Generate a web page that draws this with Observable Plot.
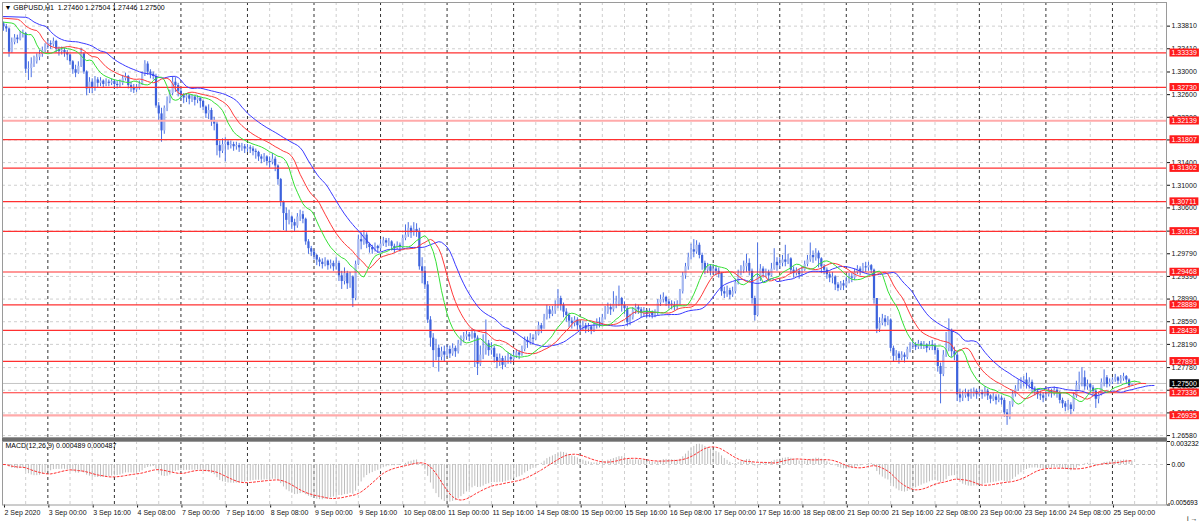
<!DOCTYPE html>
<html>
<head>
<meta charset="utf-8">
<script src="https://cdn.jsdelivr.net/npm/d3@7"></script>
<script src="https://cdn.jsdelivr.net/npm/@observablehq/plot@0.6"></script>
<style>
  html,body{margin:0;padding:0;background:#fff;}
  #chart{position:relative;width:1200px;height:523px;overflow:hidden;background:#fff;}
  #chart svg{display:block;}
  #sep{height:3px;background:#6e6e6e;margin-left:2px;width:1165px;}
</style>
</head>
<body>
<div id="chart"><div id="main"></div><div id="sep"></div><div id="macd"></div></div>
<script>
// ---------------- data ----------------
const symbolName = "GBPUSD,H1";
const lastBarOHLC = [1.27460, 1.27504, 1.27446, 1.27500];
const tradingDays = ["2 Sep","3 Sep","4 Sep","7 Sep","8 Sep","9 Sep","10 Sep","11 Sep","14 Sep","15 Sep","16 Sep","17 Sep","18 Sep","21 Sep","22 Sep","23 Sep","24 Sep","25 Sep"];
const firstBarHour = 8;          // first visible H1 bar: 2 Sep 08:00
const priceUnit = 1e4;           // OHLC arrays below are price x 10000
const firstOpen = 13385;
const closeX = [
13380,13376,13335,13352,13360,13357,13366,13368, 13305,13306,13314,13318,13326,13331,13338,13346,
13350,13348,13354,13340,13336,13338,13334,13330, 13318,13304,13298,13310,13332,13300,13270,13282,
13272,13286,13280,13284,13278,13282,13280,13283, 13278,13276,13280,13288,13292,13276,13272,13268,
13272,13278,13296,13314,13300,13296,13292,13240, 13226,13196,13236,13248,13262,13282,13276,13266,
13258,13254,13258,13252,13256,13250,13254,13248, 13238,13226,13232,13214,13208,13170,13160,13172,
13176,13170,13172,13168,13170,13166,13168,13164, 13166,13164,13160,13158,13150,13146,13150,13142,
13140,13146,13134,13110,13070,13050,13038,13044, 13034,13028,13044,13048,13040,13000,12988,12982,
12976,12968,12964,12960,12966,12958,12962,12956, 12962,12940,12930,12944,12926,12938,12900,12960,
13004,13000,13012,12996,12990,12986,12992,12988, 12996,13002,12998,13000,12992,12988,12994,12990,
13006,13012,13024,13016,13022,13018,12956,12948, 12924,12862,12830,12808,12812,12796,12806,12800,
12810,12802,12812,12806,12820,12828,12832,12836, 12832,12838,12830,12784,12800,12812,12820,12808,
12812,12796,12788,12794,12782,12790,12796,12792, 12798,12804,12800,12810,12826,12822,12830,12828,
12836,12852,12846,12866,12880,12872,12878,12886, 12900,12888,12876,12870,12860,12856,12862,12852,
12848,12852,12846,12850,12844,12852,12858,12856, 12866,12876,12884,12880,12890,12894,12900,12888,
12882,12858,12866,12878,12884,12880,12874,12878, 12872,12876,12870,12874,12892,12898,12902,12894,
12890,12888,12886,12890,12912,12940,12956,12972, 12986,12982,12994,12976,12962,12950,12956,12948,
12952,12948,12944,12912,12908,12914,12906,12912, 12928,12944,12950,12956,12962,12948,12900,12870,
12938,12952,12944,12946,12940,12952,12964,12958, 12962,12968,12964,12970,12950,12944,12948,12942,
12950,12960,12968,12976,12972,12980,12970,12956, 12950,12942,12936,12938,12924,12918,12926,12922,
12930,12938,12936,12946,12952,12948,12956,12954, 12958,12950,12900,12846,12856,12864,12858,12862,
12812,12798,12802,12794,12800,12796,12810,12816, 12818,12814,12820,12816,12818,12812,12818,12816,
12808,12780,12766,12800,12812,12844,12806,12800, 12730,12724,12728,12734,12726,12732,12736,12730,
12734,12730,12736,12728,12722,12726,12720,12724, 12720,12698,12690,12712,12730,12740,12748,12752,
12756,12748,12752,12740,12736,12730,12728,12724, 12730,12736,12732,12738,12734,12720,12714,12708,
12712,12704,12728,12746,12752,12760,12744,12748, 12742,12736,12722,12730,12752,12760,12748,12752,
12756,12760,12754,12758,12762,12756,12746,12750];
const highX = [
13388,13384,13378,13360,13366,13365,13372,13374, 13370,13318,13325,13328,13332,13338,13344,13350,
13356,13355,13360,13356,13344,13344,13342,13338, 13332,13320,13312,13318,13342,13334,13302,13290,
13288,13292,13290,13290,13286,13288,13286,13288, 13286,13284,13286,13294,13298,13294,13282,13278,
13278,13284,13300,13320,13318,13304,13300,13296, 13246,13236,13240,13256,13268,13292,13290,13280,
13270,13262,13262,13260,13260,13256,13258,13254, 13250,13240,13242,13236,13220,13212,13178,13182,
13184,13180,13178,13176,13176,13174,13174,13172, 13172,13170,13168,13164,13160,13154,13156,13152,
13150,13156,13150,13136,13112,13072,13060,13056, 13046,13040,13050,13056,13054,13042,13004,12992,
12986,12978,12972,12970,12972,12968,12968,12966, 12972,12966,12948,12954,12948,12946,12940,12966,
13012,13016,13020,13016,12998,12994,12998,12994, 13004,13008,13006,13006,13002,12996,13000,12998,
13012,13030,13034,13028,13034,13032,13024,12972, 12956,12930,12868,12838,12828,12818,12814,12816,
12818,12816,12820,12816,12826,12834,12840,12842, 12840,12846,12844,12834,12816,12836,12862,12826,
12822,12816,12802,12802,12798,12798,12804,12802, 12806,12810,12808,12816,12832,12832,12838,12836,
12842,12858,12856,12872,12888,12886,12886,12896, 12916,12904,12892,12882,12874,12866,12868,12866,
12856,12860,12856,12856,12852,12858,12864,12866, 12872,12886,12892,12890,12912,12904,12922,12902,
12894,12886,12872,12884,12890,12888,12884,12884, 12880,12882,12878,12880,12898,12906,12910,12904,
12898,12896,12894,12896,12916,12946,12962,12980, 12996,13004,13002,12998,12980,12966,12962,12960,
12960,12958,12954,12946,12920,12922,12918,12920, 12934,12950,12958,12966,12978,12970,12952,12904,
12998,12960,12956,12952,12950,12962,12988,12972, 12972,12976,12994,12978,12972,12956,12954,12952,
12956,12966,12976,12998,12984,12988,12984,12972, 12960,12954,12946,12946,12940,12928,12930,12932,
12938,12944,12944,12952,12958,12956,12962,12964, 12964,12960,12952,12900,12866,12872,12870,12868,
12864,12816,12808,12806,12806,12804,12814,12822, 12824,12822,12826,12824,12824,12820,12824,12826,
12820,12812,12786,12808,12840,12864,12846,12814, 12806,12740,12736,12740,12738,12740,12742,12740,
12740,12738,12744,12740,12730,12732,12730,12730, 12728,12724,12704,12718,12736,12746,12756,12760,
12762,12768,12760,12756,12744,12740,12736,12734, 12736,12742,12740,12744,12742,12736,12724,12718,
12720,12716,12734,12754,12770,12778,12772,12756, 12750,12746,12740,12734,12758,12774,12764,12758,
12760,12766,12762,12764,12768,12764,12758,12750];
const lowX = [
13372,13370,13326,13333,13348,13350,13355,13360, 13297,13285,13290,13308,13314,13320,13326,13334,
13340,13340,13344,13334,13328,13330,13326,13320, 13312,13296,13290,13296,13308,13296,13258,13262,
13262,13266,13272,13274,13272,13274,13274,13276, 13270,13270,13272,13276,13284,13270,13264,13262,
13264,13268,13276,13292,13294,13288,13286,13236, 13214,13176,13190,13230,13244,13258,13264,13256,
13250,13244,13246,13242,13246,13240,13244,13236, 13232,13218,13216,13204,13196,13152,13148,13156,
13141,13162,13164,13160,13162,13158,13160,13156, 13158,13156,13152,13146,13142,13138,13140,13134,
13130,13136,13124,13100,13062,13020,13018,13030, 13022,13018,13024,13036,13032,12994,12978,12974,
12968,12958,12956,12952,12956,12950,12952,12948, 12950,12930,12916,12924,12916,12918,12884,12896,
12958,12986,12994,12988,12980,12978,12982,12980, 12984,12992,12990,12992,12984,12980,12986,12982,
12988,13002,13008,13006,13010,13008,12950,12926, 12916,12856,12814,12778,12790,12770,12790,12788,
12796,12794,12798,12796,12802,12816,12822,12826, 12824,12828,12778,12764,12780,12792,12800,12798,
12800,12786,12776,12780,12774,12778,12784,12784, 12788,12794,12792,12798,12806,12812,12818,12818,
12826,12834,12838,12846,12862,12864,12868,12872, 12882,12878,12866,12858,12848,12846,12850,12844,
12840,12842,12838,12840,12836,12840,12846,12848, 12852,12862,12872,12870,12876,12882,12886,12876,
12872,12850,12852,12862,12872,12872,12866,12868, 12864,12866,12864,12866,12870,12886,12892,12886,
12882,12880,12878,12880,12888,12908,12934,12950, 12968,12972,12978,12970,12950,12942,12944,12940,
12942,12940,12936,12904,12900,12902,12898,12902, 12908,12924,12940,12944,12946,12940,12890,12860,
12868,12930,12936,12938,12932,12938,12950,12948, 12952,12956,12956,12960,12944,12936,12940,12934,
12938,12948,12956,12964,12962,12966,12954,12944, 12942,12934,12928,12926,12914,12912,12914,12914,
12918,12926,12928,12932,12942,12940,12944,12946, 12948,12944,12890,12838,12840,12852,12850,12852,
12806,12788,12790,12784,12790,12786,12792,12804, 12810,12808,12810,12810,12810,12804,12808,12808,
12800,12770,12714,12762,12796,12806,12796,12790, 12718,12716,12718,12724,12718,12722,12726,12722,
12726,12722,12726,12720,12714,12718,12712,12716, 12712,12690,12676,12686,12708,12726,12736,12740,
12744,12740,12740,12732,12728,12722,12720,12716, 12720,12726,12724,12728,12724,12714,12706,12700,
12702,12694,12700,12724,12738,12744,12738,12738, 12734,12726,12706,12714,12728,12744,12742,12744,
12748,12752,12748,12750,12754,12748,12742,12745];

const priceTicks = [1.33810,1.33410,1.33000,1.32600,1.32200,1.31800,1.31400,1.31000,1.30600,1.30190,1.29790,1.29390,1.28990,1.28590,1.28190,1.27780,1.27380,1.26980,1.26580];
const levelPrices = [1.33339,1.32730,1.32139,1.31807,1.31302,1.30711,1.30185,1.29468,1.28889,1.28439,1.27891,1.27336,1.26935];
const paleLevels = [1.32139,1.26935];
const bidPrice = 1.27500;
const xTickLabels = ["2 Sep 2020","3 Sep 00:00","3 Sep 16:00","4 Sep 08:00","7 Sep 00:00","7 Sep 16:00","8 Sep 08:00","9 Sep 00:00","9 Sep 16:00","10 Sep 08:00","11 Sep 00:00","11 Sep 16:00","14 Sep 08:00","15 Sep 00:00","15 Sep 16:00","16 Sep 08:00","17 Sep 00:00","17 Sep 16:00","18 Sep 08:00","21 Sep 00:00","21 Sep 16:00","22 Sep 08:00","23 Sep 00:00","23 Sep 16:00","24 Sep 08:00","25 Sep 00:00"];
const xTickEvery = 16;           // bars between time labels
const gridEvery = 8;             // bars between grid lines
const alligatorSeed = {jaw: 1.3398, teeth: 1.3395, lips: 1.3388};  // line values at the left edge
const macdShown = [0.000489, 0.000487];
const macdAxisLabels = [0.003232, 0, -0.005693];

// ---------------- derived tables ----------------
const bars = closeX.map((c, i) => ({
  i,
  open: (i ? closeX[i - 1] : firstOpen) / priceUnit,
  high: highX[i] / priceUnit,
  low: lowX[i] / priceUnit,
  close: c / priceUnit
}));
const bull = bars.filter(b => b.close >= b.open);
const bear = bars.filter(b => b.close < b.open);

function smma(src, n, seed) { let p = seed; return src.map(v => (p = (p * (n - 1) + v) / n)); }
const med = bars.map(b => (b.high + b.low) / 2);
function shifted(vals, shift, seed) { return [{i: 0, v: seed}, ...vals.map((v, k) => ({i: k + shift, v}))]; }
const jaw = shifted(smma(med, 13, alligatorSeed.jaw), 8, alligatorSeed.jaw);
const teeth = shifted(smma(med, 8, alligatorSeed.teeth), 5, alligatorSeed.teeth);
const lips = shifted(smma(med, 5, alligatorSeed.lips), 3, alligatorSeed.lips);

function ema(src, n) { const a = 2 / (n + 1); let p = src[0]; return src.map(v => (p = p + a * (v - p))); }
const closes = bars.map(b => b.close);
const e12 = ema(closes, 12), e26 = ema(closes, 26);
const macdMain = e12.map((v, k) => v - e26[k]);
const macdSignal = macdMain.map((_, k) => d3.mean(macdMain.slice(Math.max(0, k - 8), k + 1)));
const macdRows = bars.map((b, k) => ({i: b.i, main: macdMain[k], signal: macdSignal[k]}));

const dayStarts = tradingDays.slice(1).map((_, d) => (d + 1) * 24 - firstBarHour);
const gridBars = d3.range(gridEvery, 420, gridEvery).filter(i => !dayStarts.includes(i));
const xTickIdx = xTickLabels.map((_, k) => k * xTickEvery);
const xLabelMap = new Map(xTickIdx.map((v, k) => [v, xTickLabels[k]]));

const font = "'Liberation Sans', Arial, sans-serif";
const xDom = [-0.36, 419.5];
const titleText = "\u25BC " + symbolName + "  " + lastBarOHLC.map(v => v.toFixed(5)).join(" ");
const macdTitle = `MACD(12,26,9) ${macdShown[0].toFixed(6)} ${macdShown[1].toFixed(6)}`;
const gridStyle = {stroke: "#cfcfcf", strokeDasharray: "3,3"};
const sepStyle = {stroke: "#333", strokeDasharray: "3,3"};
const fmt5 = d => d.toFixed(5);

// ---------------- main window ----------------
const mainSvg = Plot.plot({
  width: 1200, height: 438,
  marginLeft: 2, marginRight: 34, marginTop: 2, marginBottom: 1,
  x: {domain: xDom, axis: null},
  y: {domain: [1.265456, 1.342272], axis: null},
  style: {fontFamily: font, fontSize: "7px", background: "transparent", overflow: "visible"},
  marks: [
    Plot.ruleY(priceTicks, gridStyle),
    Plot.ruleX(gridBars, gridStyle),
    Plot.ruleX(dayStarts, sepStyle),
    Plot.ruleY([bidPrice], {stroke: "#c4c4c4"}),
    Plot.ruleX(bars, {x: "i", y1: "low", y2: "high", stroke: "#4a6fe3", strokeWidth: 1}),
    Plot.ruleX(bull, {x: "i", y1: "open", y2: "close", stroke: "#a7b8f0", strokeWidth: 2.2}),
    Plot.ruleX(bear, {x: "i", y1: "open", y2: "close", stroke: "#3d62dc", strokeWidth: 2.2}),
    Plot.ruleY(levelPrices.filter(p => !paleLevels.includes(p)), {stroke: "#ff3030", strokeWidth: 1.2}),
    Plot.ruleY(paleLevels, {stroke: "#ffaaaa", strokeWidth: 2.2}),
    Plot.line(jaw, {x: "i", y: "v", stroke: "#3a3aff", strokeWidth: 1}),
    Plot.line(teeth, {x: "i", y: "v", stroke: "#ff3a3a", strokeWidth: 1}),
    Plot.line(lips, {x: "i", y: "v", stroke: "#35e035", strokeWidth: 1}),
    Plot.axisY(priceTicks, {anchor: "right", tickSize: 3, tickPadding: 2, tickFormat: fmt5, fontSize: 7, color: "#111"}),
    Plot.text(levelPrices, {y: d => d, text: fmt5, frameAnchor: "right", dx: 5, textAnchor: "start", fill: "white", fontSize: 7}),
    Plot.text([bidPrice], {y: d => d, text: fmt5, frameAnchor: "right", dx: 5, textAnchor: "start", fill: "white", fontSize: 7}),
    Plot.text([titleText], {frameAnchor: "top-left", dx: 2, dy: 3, lineAnchor: "top", textAnchor: "start", fontSize: 7, fill: "#000"}),
    Plot.frame({stroke: "#9a9a9a"})
  ]
});

// ---------------- MACD window ----------------
const macdSvg = Plot.plot({
  width: 1200, height: 82,
  marginLeft: 2, marginRight: 34, marginTop: 0, marginBottom: 18.5,
  x: {domain: xDom, axis: null},
  y: {domain: [-0.005693, 0.003232], axis: null},
  style: {fontFamily: font, fontSize: "7px", background: "transparent", overflow: "visible"},
  marks: [
    Plot.ruleX(gridBars, gridStyle),
    Plot.ruleX(dayStarts, sepStyle),
    Plot.ruleY([0], gridStyle),
    Plot.ruleX(macdRows, {x: "i", y1: d => 0, y2: "main", stroke: "#bdbdbd", strokeWidth: 1, clip: true}),
    Plot.line(macdRows, {x: "i", y: "signal", stroke: "#ff3030", strokeDasharray: "2,2", strokeWidth: 1, clip: true}),
    Plot.axisX(xTickIdx, {anchor: "bottom", tickSize: 3, tickPadding: 2, tickFormat: d => xLabelMap.get(d), textAnchor: "start", dx: 1, fontSize: 7, color: "#111"}),
    Plot.axisY(macdAxisLabels, {anchor: "right", tickSize: 3, tickFormat: () => "", color: "#111"}),
    Plot.text([macdAxisLabels[0]], {y: d => d, text: d => d.toFixed(6), frameAnchor: "right", dx: 4, lineAnchor: "top", textAnchor: "start", fontSize: 6.8}),
    Plot.text([macdAxisLabels[1]], {y: d => d, text: () => "0.00", frameAnchor: "right", dx: 5, textAnchor: "start", fontSize: 6.8}),
    Plot.text([macdAxisLabels[2]], {y: d => d, text: d => d.toFixed(6), frameAnchor: "right", dx: 1.5, lineAnchor: "bottom", textAnchor: "start", fontSize: 6.6}),
    Plot.text([macdTitle], {frameAnchor: "top-left", dx: 3, dy: 2, lineAnchor: "top", textAnchor: "start", fontSize: 7, fill: "#000"}),
    Plot.frame({stroke: "#9a9a9a"})
  ]
});

document.getElementById("main").appendChild(mainSvg);
document.getElementById("macd").appendChild(macdSvg);

// coloured boxes behind the price labels of the horizontal lines
const levelStrings = new Set(levelPrices.map(fmt5));
const bidString = fmt5(bidPrice);
mainSvg.querySelectorAll("text").forEach(t => {
  const s = t.textContent;
  let color = null;
  if (levelStrings.has(s)) color = "#ff1a1a";
  else if (s === bidString) color = "#000000";
  if (!color) return;
  const b = t.getBBox();
  const r = document.createElementNS("http://www.w3.org/2000/svg", "rect");
  r.setAttribute("x", b.x - 2);
  r.setAttribute("y", b.y - 0.5);
  r.setAttribute("width", b.width + 4);
  r.setAttribute("height", b.height + 1);
  r.setAttribute("fill", color);
  const tr = t.getAttribute("transform");
  if (tr) r.setAttribute("transform", tr);
  t.parentNode.insertBefore(r, t);
});
</script>
</body>
</html>
